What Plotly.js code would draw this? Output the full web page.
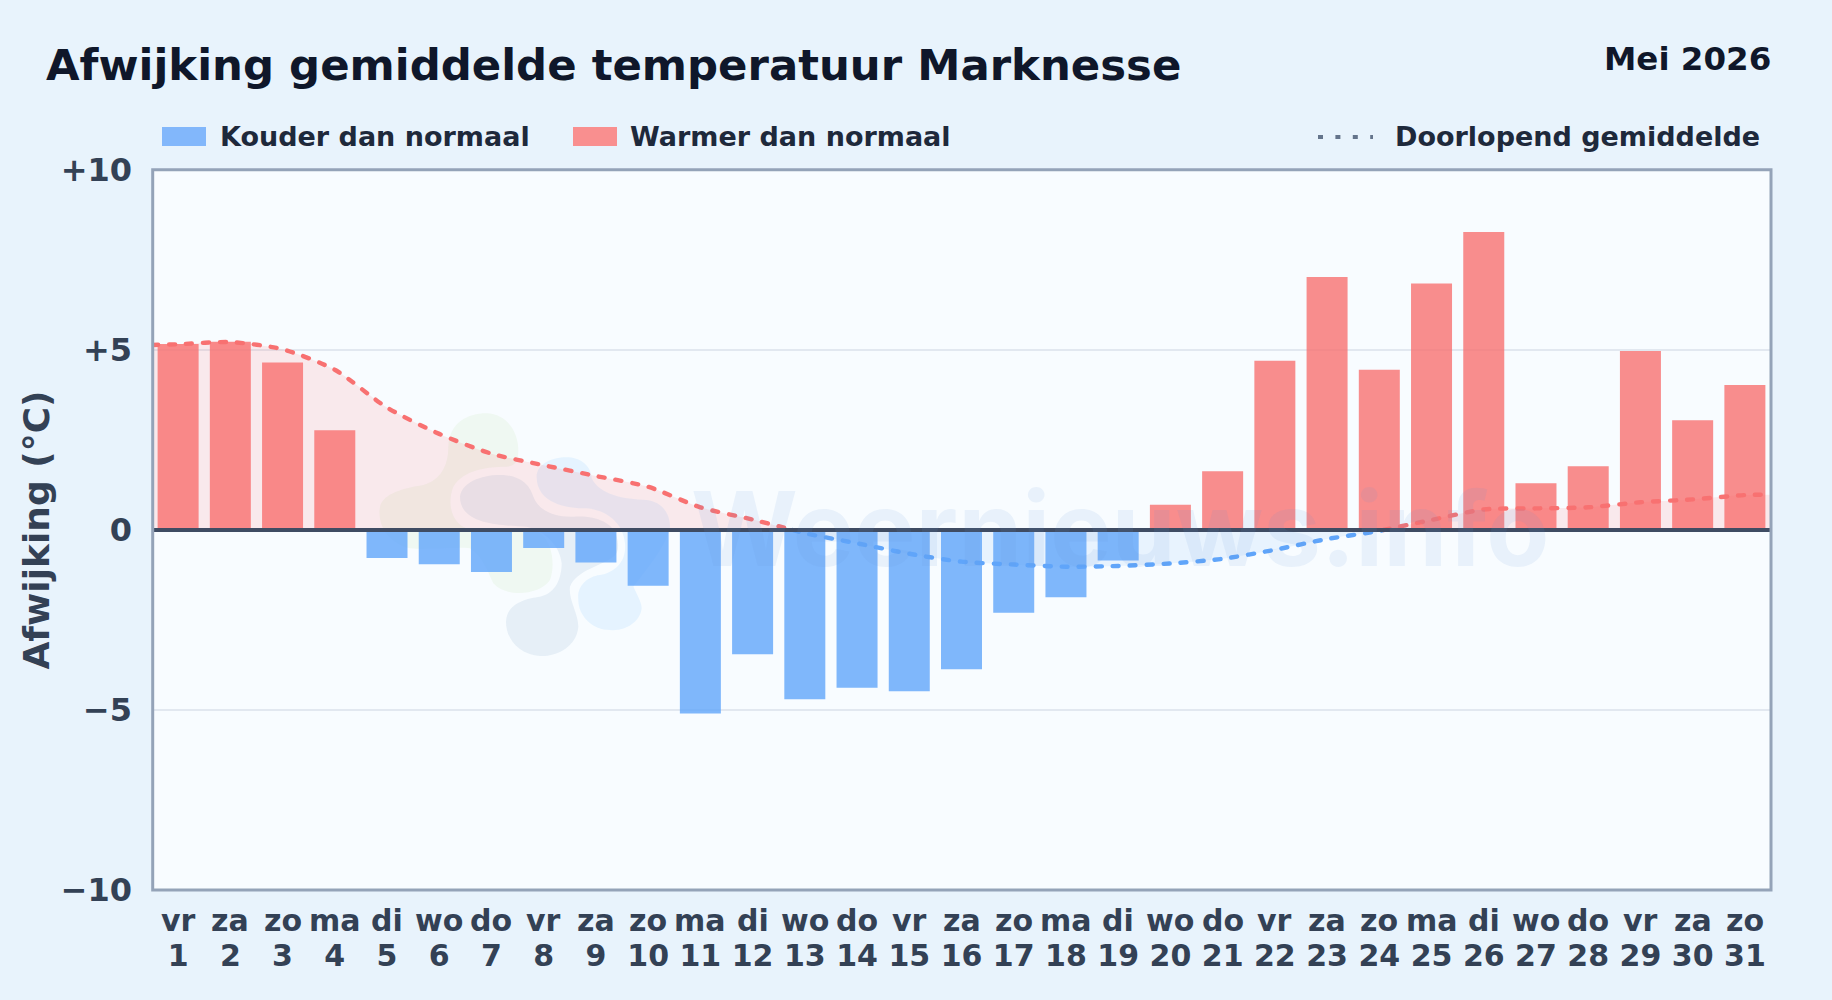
<!DOCTYPE html>
<html>
<head>
<meta charset="utf-8">
<script src="https://cdn.plot.ly/plotly-3.0.1.min.js"></script>
<style>
html,body{margin:0;padding:0;background:#e8f3fc;overflow:hidden}
#chart{width:1832px;height:1000px}
.scatterlayer .js-line{stroke-linecap:round}
</style>
</head>
<body>
<div id="chart"></div>
<script>
const weekdays = ["vr","za","zo","ma","di","wo","do","vr","za","zo","ma","di","wo","do","vr","za","zo","ma","di","wo","do","vr","za","zo","ma","di","wo","do","vr","za","zo"];
const days = [1,2,3,4,5,6,7,8,9,10,11,12,13,14,15,16,17,18,19,20,21,22,23,24,25,26,27,28,29,30,31];
const anomaly = [5.17,5.23,4.65,2.77,-0.78,-0.95,-1.17,-0.5,-0.9,-1.55,-5.1,-3.45,-4.7,-4.38,-4.48,-3.87,-2.3,-1.87,-0.85,0.7,1.63,4.7,7.03,4.45,6.85,8.28,1.3,1.77,4.97,3.05,4.03];
const yTickVals = [-10,-5,0,5,10];
const yTickText = ["−10","−5","0","+5","+10"];
const warmStartX = [0.5,1,2,3,4,5,6,7,8,9,10,11,12,12.77];
const warmStartY = [5.14,5.16,5.22,5.02,4.45,3.4,2.67,2.12,1.8,1.5,1.2,0.63,0.29,0];
const coldX = [12.77,13,14,15,16,17,18,19,20,21,22,23,24,24.08];
const coldY = [0,-0.09,-0.37,-0.66,-0.88,-0.96,-1.02,-1.0,-0.93,-0.8,-0.55,-0.25,-0.03,0];
const warmEndX = [24.08,25,26,27,28,29,30,31,31.5];
const warmEndY = [0,0.28,0.57,0.6,0.63,0.77,0.85,0.97,0.98];

const W = 1832, H = 1000;
const M = {l:152,r:61,t:170,b:110};
const px = x => (x - M.l) / (W - M.l - M.r), py = y => 1 - (y - M.t) / (H - M.t - M.b);
const RED = "rgba(248,113,113,0.8)", BLUE = "rgba(96,165,250,0.8)";
const INK = "#334155", DARK = "#0f172a", LEG = "#1e293b";
const FONT = "DejaVu Sans";

// Watermark blobs: traced outlines, in pixels of the region starting at (360,400), scaled 3x
function blob(cmds){
  return cmds.replace(/(-?\d+(?:\.\d+)?),(-?\d+(?:\.\d+)?)/g, (m,a,b)=> px(360 + a/3).toFixed(5)+","+py(400 + b/3).toFixed(5));
}
const green = "M 380,40 C 440,42 475,95 475,150 C 475,185 465,198 440,200 C 380,200 310,210 280,260 C 260,310 275,370 320,385 C 400,395 480,370 540,400 C 580,430 585,500 570,540 C 540,585 440,595 400,550 C 385,520 370,470 330,445 C 280,440 210,450 150,445 C 90,430 50,380 60,320 C 70,280 130,265 190,255 C 240,240 265,200 265,140 C 268,70 320,40 380,40 Z";
const slate = "M 300,290 C 305,245 370,222 430,225 C 490,230 510,260 520,290 C 535,330 580,352 640,350 C 700,345 760,365 770,410 C 778,440 775,460 760,470 C 720,500 650,510 630,560 C 625,600 655,640 655,680 C 650,740 590,770 540,768 C 480,765 438,720 438,665 C 440,610 500,595 540,590 C 590,580 605,530 605,490 C 600,440 560,395 500,380 C 440,375 300,380 300,290 Z";
const sky = "M 530,230 C 530,190 580,170 625,172 C 670,175 695,205 695,235 C 720,285 790,298 860,300 C 905,305 930,340 930,380 C 925,430 850,520 820,560 C 835,590 845,610 845,625 C 840,670 790,695 750,690 C 700,690 655,650 655,600 C 650,560 680,530 720,525 C 770,515 800,480 795,430 C 790,370 740,330 680,325 C 620,325 530,310 530,230 Z";

const blobShape = (d, c) => ({type:"path", xref:"paper", yref:"paper", layer:"below", path:blob(d), fillcolor:c, line:{width:0}});

const barTrace = {
  type:"bar", x:days, y:anomaly, width:0.785,
  marker:{color:anomaly.map(v => v >= 0 ? RED : BLUE), line:{width:0}},
  hoverinfo:"x+y", showlegend:false
};
const avgLine = (x,y,color,fill) => ({
  type:"scatter", mode:"lines", x, y,
  line:{color, width:4.4, shape:"spline", smoothing:0.7, dash:"6px,11px"},
  fill:"tozeroy", fillcolor:fill, hoverinfo:"skip", showlegend:false
});

const annText = (text,x,y,size,color,anchor,extra) => Object.assign({
  text, xref:"paper", yref:"paper", x:px(x), y:py(y), showarrow:false,
  xanchor:anchor, yanchor:"middle", font:{family:FONT,size,color,weight:700}
}, extra||{});

const weekdayLabels = days.map((d,i) => ({
  text:weekdays[i], xref:"x", yref:"paper", x:d, y:py(920), showarrow:false,
  xanchor:"center", yanchor:"middle", font:{family:FONT,size:30,color:INK,weight:700}
}));

const layout = {
  width:W, height:H,
  paper_bgcolor:"#e8f3fc", plot_bgcolor:"#f8fcff",
  margin:{l:M.l,r:M.r,t:M.t,b:M.b,pad:0},
  font:{family:FONT},
  showlegend:false, bargap:0.2,
  title:{text:"<b>Afwijking gemiddelde temperatuur Marknesse</b>", x:46/W, xanchor:"left", xref:"container",
         y:1-65/H, yanchor:"middle", yref:"container", font:{family:FONT,size:43.4,color:DARK}},
  xaxis:{range:[0.5,31.5], tickmode:"array", tickvals:days, ticktext:days.map(String),
         tickfont:{family:FONT,size:30,color:INK,weight:700}, ticks:"", showgrid:false, zeroline:false,
         showline:false, tickangle:0, ticklabelstandoff:45, fixedrange:true},
  yaxis:{range:[-10,10], tickmode:"array", tickvals:yTickVals, ticktext:yTickText,
         tickfont:{family:FONT,size:32,color:INK,weight:700}, ticks:"", showgrid:true, gridcolor:"#e2e8f0", gridwidth:2,
         zeroline:false, showline:false, ticklabelstandoff:19, fixedrange:true,
         title:{text:"<b>Afwijking (°C)</b>", font:{family:FONT,size:36,color:INK}, standoff:0}},
  shapes:[
    blobShape(green,"rgba(150,210,110,0.09)"),
    blobShape(slate,"rgba(90,135,180,0.11)"),
    blobShape(sky,"rgba(130,200,255,0.16)"),
    {type:"line", xref:"paper", yref:"y", x0:0, x1:1, y0:0, y1:0, layer:"above", line:{color:"#3f4c63",width:4}},
    {type:"rect", xref:"paper", yref:"paper", x0:px(152.7), x1:px(1771), y0:py(890), y1:py(169.7), layer:"above", fillcolor:"rgba(0,0,0,0)", line:{color:"#94a3b8",width:3}},
    {type:"rect", xref:"paper", yref:"paper", x0:px(162), x1:px(206), y0:py(127), y1:py(146), fillcolor:"#82b7fb", line:{width:0}},
    {type:"rect", xref:"paper", yref:"paper", x0:px(573), x1:px(617), y0:py(127), y1:py(146), fillcolor:"#f98f8f", line:{width:0}},
    {type:"line", xref:"paper", yref:"paper", x0:px(1318), x1:px(1373), y0:py(137), y1:py(137), line:{color:"#64748b",width:4,dash:"5px,12.4px"}}
  ],
  annotations:[
    annText("Mei 2026",1773,59,32.5,DARK,"right"),
    annText("Kouder dan normaal",217.5,137,27,LEG,"left"),
    annText("Warmer dan normaal",628,137,27,LEG,"left"),
    annText("Doorlopend gemiddelde",1762,137,27,LEG,"right"),
    {text:"Weernieuws.info", xref:"paper", yref:"paper", x:px(1120), y:py(528), showarrow:false, xanchor:"center", yanchor:"middle",
     font:{family:"Inter",size:103,color:"rgba(96,150,215,0.1)",weight:700}}
  ].concat(weekdayLabels)
};

Plotly.newPlot("chart",[
  avgLine(warmStartX,warmStartY,"#f87171","rgba(255,110,110,0.13)"),
  avgLine(coldX,coldY,"#60a5fa","rgba(96,165,250,0.1)"),
  avgLine(warmEndX,warmEndY,"#f87171","rgba(255,110,110,0.13)"),
  barTrace
],layout,{displayModeBar:false,responsive:false});
</script>
</body>
</html>
